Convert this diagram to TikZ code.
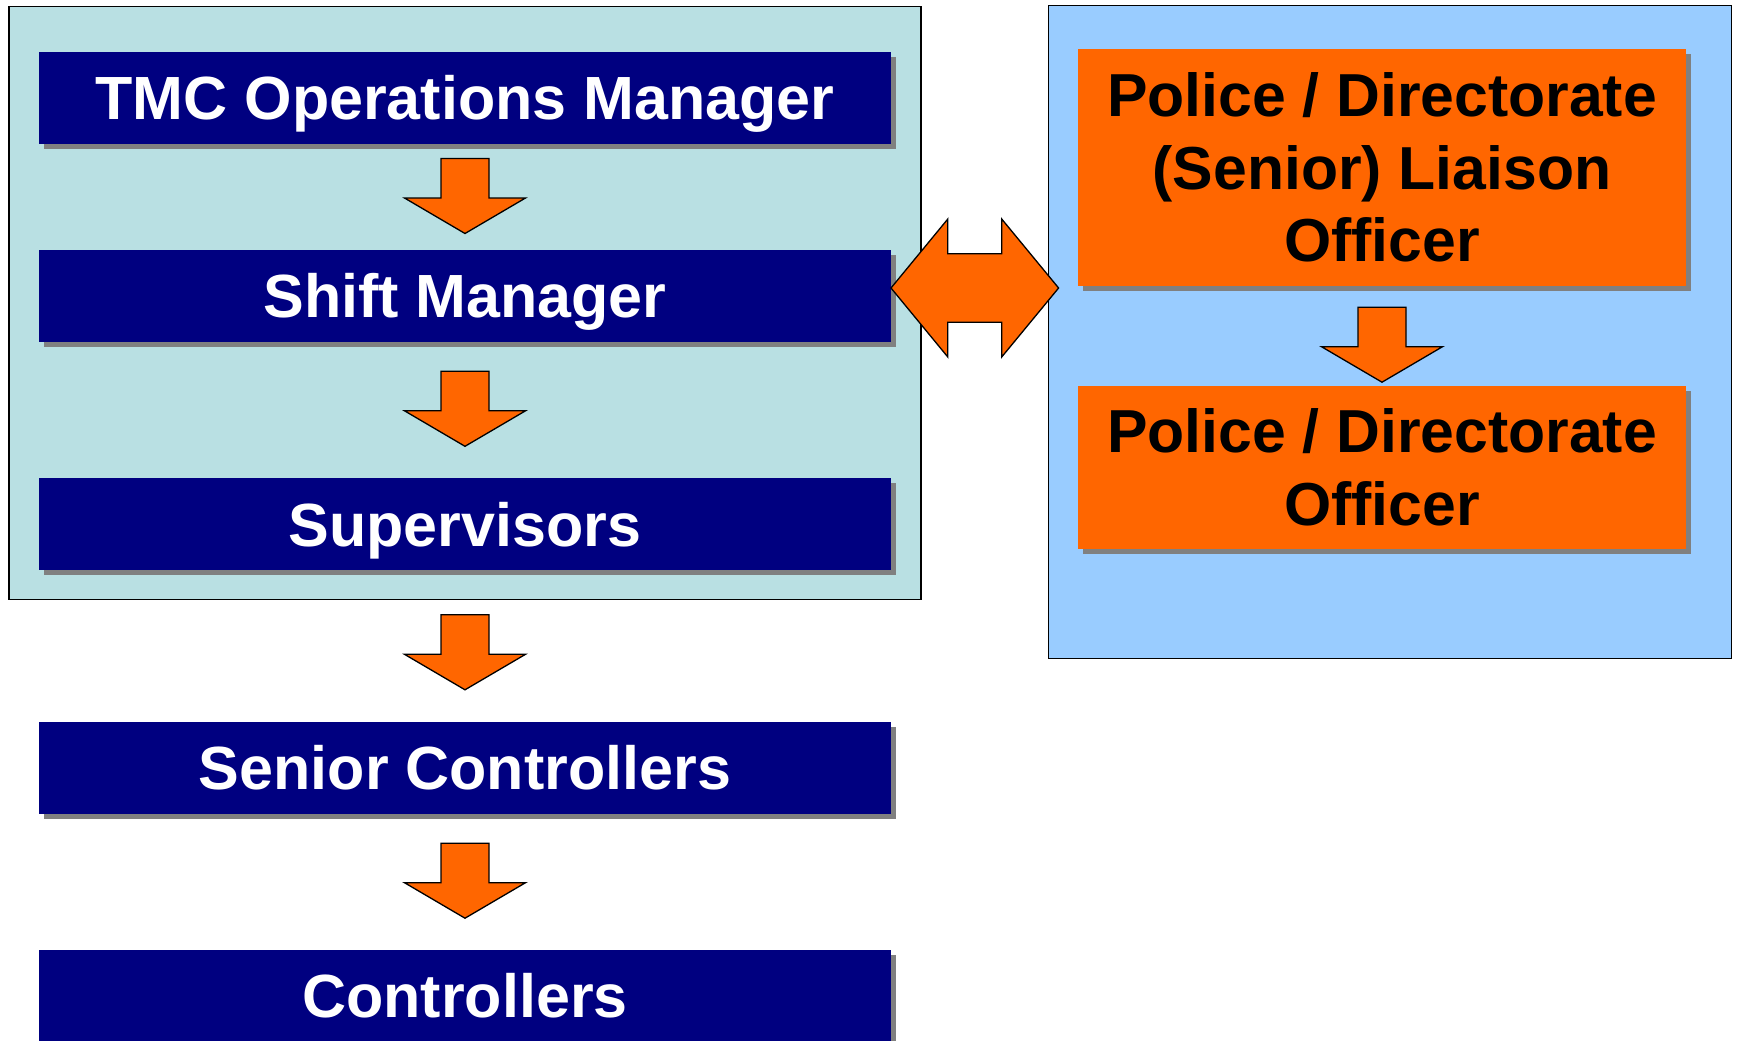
\documentclass[tikz,border=0pt]{standalone}
\usepackage{fontspec}
\setmainfont{Liberation Sans}
\usetikzlibrary{shadows}
\definecolor{panelA}{RGB}{185,224,227}
\definecolor{panelB}{RGB}{153,204,255}
\definecolor{navyfill}{RGB}{0,0,128}
\definecolor{orangefill}{RGB}{255,102,0}
\definecolor{shadowgray}{RGB}{128,128,128}
\begin{document}
\begin{tikzpicture}[x=1pt,y=-1pt,
  panel/.style={draw=black,line width=1.6pt},
  boxshadow/.style={drop shadow={shadow xshift=5pt,shadow yshift=-5pt,fill=shadowgray,opacity=1}},
  bbox/.style={rectangle,fill=navyfill,text=white,minimum width=852pt,minimum height=92pt,
    inner sep=0pt,outer sep=0pt,font=\fontsize{61}{72.5}\selectfont\bfseries,
    text height=43.6pt,text depth=0pt,boxshadow},
  obox/.style={rectangle,fill=orangefill,text=black,minimum width=608pt,
    inner sep=0pt,outer sep=0pt,font=\fontsize{60.7}{72.5}\selectfont\bfseries,
    align=center,boxshadow},
  blockarrow/.style={fill=orangefill,draw=black,line width=1.3pt,line join=miter},
  downarrow/.pic={\draw[blockarrow] (-24,0) -- (24,0) -- (24,39.5) -- (60.5,39.5)
    -- (0,75) -- (-60.5,39.5) -- (-24,39.5) -- cycle;}
]
\useasboundingbox (0,0) rectangle (1738,1041);
\clip (0,0) rectangle (1738,1041);
% panels
\draw[panel,fill=panelA] (8.9,6.6) rectangle (921,599.6);
\draw[panel,fill=panelB] (1048.5,5.5) rectangle (1731.3,658.4);
% left column
\node[bbox] (tmc) at (465,98) {TMC Operations Manager};
\node[bbox] (sm) at (465,296) {Shift Manager};
\node[bbox] (sup) at (465,524.3) {Supervisors};
\node[bbox] (sc) at (465,767.6) {Senior Controllers};
\node[bbox] (ctl) at (465,996) {Controllers};
\pic (a1) at (465,158.5) {downarrow};
\pic (a2) at (465,371.3) {downarrow};
\pic (a3) at (465,614.8) {downarrow};
\pic (a4) at (465,843.2) {downarrow};
% right column
\node[obox,minimum height=237.2pt] (plo) at (1382,167.4) {Police / Directorate\\(Senior) Liaison\\Officer};
\node[obox,minimum height=163pt] (po) at (1382,467.2) {Police / Directorate\\Officer};
\pic (a5) at (1382,307.2) {downarrow};
% double arrow
\draw[blockarrow] (891,288) -- (947.8,219) -- (947.8,253.7) -- (1001.7,253.7) -- (1001.7,219)
  -- (1058.6,288) -- (1001.7,357) -- (1001.7,322.3) -- (947.8,322.3) -- (947.8,357) -- cycle;
\end{tikzpicture}
\end{document}
